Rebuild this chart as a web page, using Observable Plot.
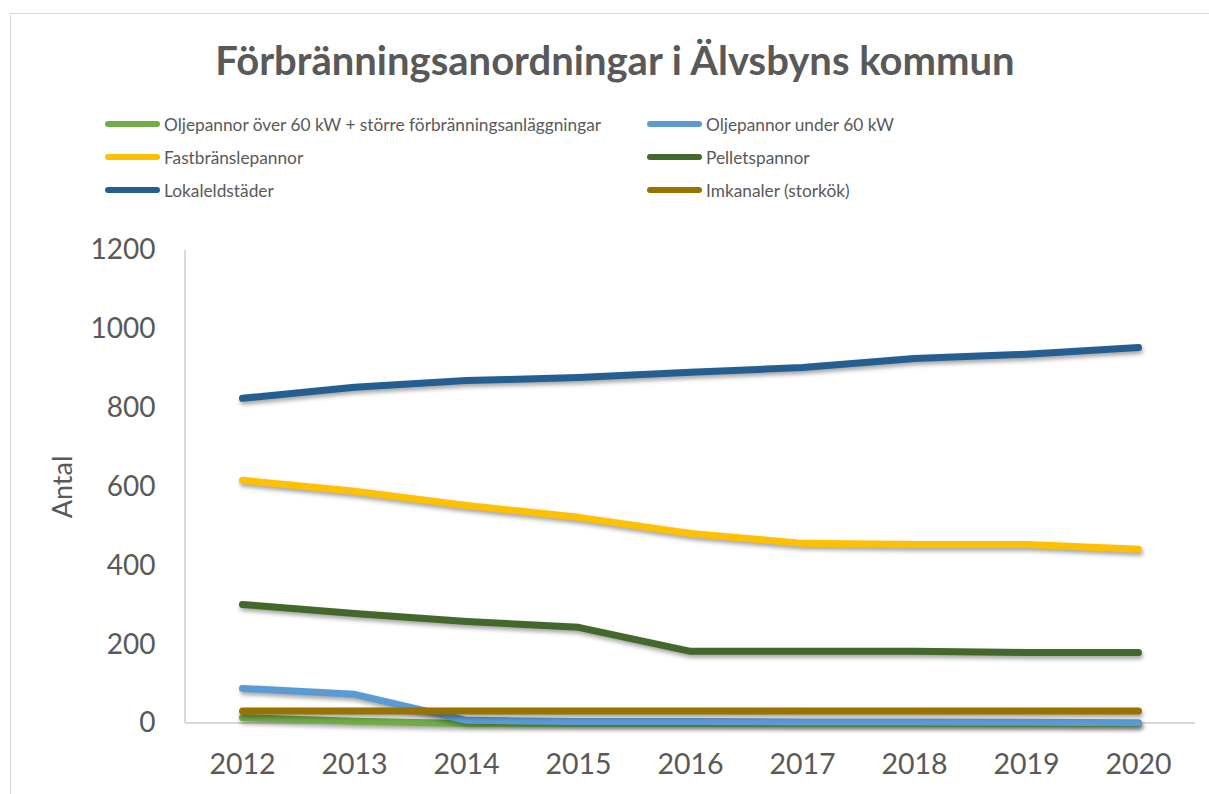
<!DOCTYPE html>
<html>
<head>
<meta charset="utf-8">
<script src="https://cdn.jsdelivr.net/npm/d3@7"></script>
<script src="https://cdn.jsdelivr.net/npm/@observablehq/plot@0.6"></script>
<style>
  html, body { margin: 0; padding: 0; background: #fff; }
  body { width: 1209px; height: 794px; position: relative; overflow: hidden; font-family: Lato, "Open Sans", sans-serif; color: #595959; }
  #frame { position: absolute; left: 10px; top: 13px; width: 1220px; height: 800px; border: 1.5px solid #d9d9d9; box-sizing: border-box; }
  #title { position: absolute; left: 0; width: 1230px; top: 36px; text-align: center; font-size: 40px; font-weight: 700; color: #595959; }
  .leg { position: absolute; display: flex; align-items: center; font-size: 17.3px; color: #595959; }
  .sw { width: 55px; height: 6px; border-radius: 3px; margin-right: 4px; }
  #chart { position: absolute; left: 0; top: 230px; }
  #chart g[aria-label="line"] path { filter: drop-shadow(1px 3px 2px rgba(0,0,0,0.35)); }
</style>
</head>
<body>
<div id="frame"></div>
<div id="title">Förbränningsanordningar i Älvsbyns kommun</div>
<div id="legend"></div>
<div id="chart"></div>
<script>
const years = [2012, 2013, 2014, 2015, 2016, 2017, 2018, 2019, 2020];
const seriesNames = [
  "Oljepannor över 60 kW + större förbränningsanläggningar",
  "Oljepannor under 60 kW",
  "Fastbränslepannor",
  "Pelletspannor",
  "Lokaleldstäder",
  "Imkanaler (storkök)"
];
const seriesColors = ["#70AD47", "#5B9BD5", "#FFC000", "#43682B", "#255E91", "#997300"];
const oljeOver60 = [15, 6, 0, 0, 0, 0, 0, 0, 0];
const oljeUnder60 = [89, 74, 8, 5, 5, 4, 4, 3, 2];
const fastbransle = [617, 589, 553, 523, 482, 457, 454, 454, 442];
const pellets = [302, 279, 259, 244, 183, 183, 183, 180, 180];
const lokaleld = [825, 853, 870, 878, 891, 903, 926, 937, 954];
const imkanaler = [32, 32, 32, 32, 32, 32, 32, 32, 32];
const yTicks = [0, 200, 400, 600, 800, 1000, 1200];

const seriesValues = [oljeOver60, oljeUnder60, fastbransle, pellets, lokaleld, imkanaler];
const data = [];
seriesNames.forEach((name, i) => {
  years.forEach((yr, j) => data.push({series: name, year: yr, value: seriesValues[i][j]}));
});

// legend
const legendPos = [[105, 124], [647, 124], [105, 157], [647, 157], [105, 190], [647, 190]];
const legend = document.getElementById("legend");
seriesNames.forEach((name, i) => {
  const d = document.createElement("div");
  d.className = "leg";
  d.style.left = legendPos[i][0] + "px";
  d.style.top = (legendPos[i][1] - 11) + "px";
  d.style.height = "22px";
  d.innerHTML = `<span class="sw" style="background:${seriesColors[i]}"></span><span>${name}</span>`;
  legend.appendChild(d);
});

const W = 1209, H = 564;
const chart = Plot.plot({
  width: W,
  height: H,
  marginLeft: 185,
  marginRight: 14,
  marginTop: 20,
  marginBottom: 71,
  style: {fontFamily: "Lato, 'Open Sans', sans-serif", fontSize: "28px", color: "#595959", background: "transparent"},
  x: {type: "point", domain: years, padding: 0.5, label: null},
  y: {domain: [0, 1200], label: null},
  color: {domain: seriesNames, range: seriesColors},
  marks: [
    Plot.axisY({ticks: yTicks, tickSize: 0, tickPadding: 30, label: null, fontSize: 28, tickFormat: d3.format("d")}),
    Plot.axisX({tickSize: 0, tickPadding: 30, label: null, fontSize: 28.5, tickFormat: d => String(d)}),
    Plot.text(["Antal"], {frameAnchor: "left", dx: -122, rotate: -90, textAnchor: "middle", fontSize: 27, fill: "#595959"}),
    Plot.lineY(data, {x: "year", y: "value", z: "series", stroke: "series", strokeWidth: 7, strokeLinecap: "round", strokeLinejoin: "round"})
  ]
});
document.getElementById("chart").appendChild(chart);

// axis lines via the chart's own scales
const ysc = chart.scale("y");
const svg = d3.select(chart);
const left = 185, right = W - 14;
svg.insert("line", "g[aria-label='line']")
  .attr("x1", left).attr("x2", left).attr("y1", ysc.apply(1200)).attr("y2", ysc.apply(0))
  .attr("stroke", "#d9d9d9").attr("stroke-width", 2);
svg.insert("line", "g[aria-label='line']")
  .attr("x1", left).attr("x2", right).attr("y1", ysc.apply(0)).attr("y2", ysc.apply(0))
  .attr("stroke", "#d9d9d9").attr("stroke-width", 2);
</script>
</body>
</html>
